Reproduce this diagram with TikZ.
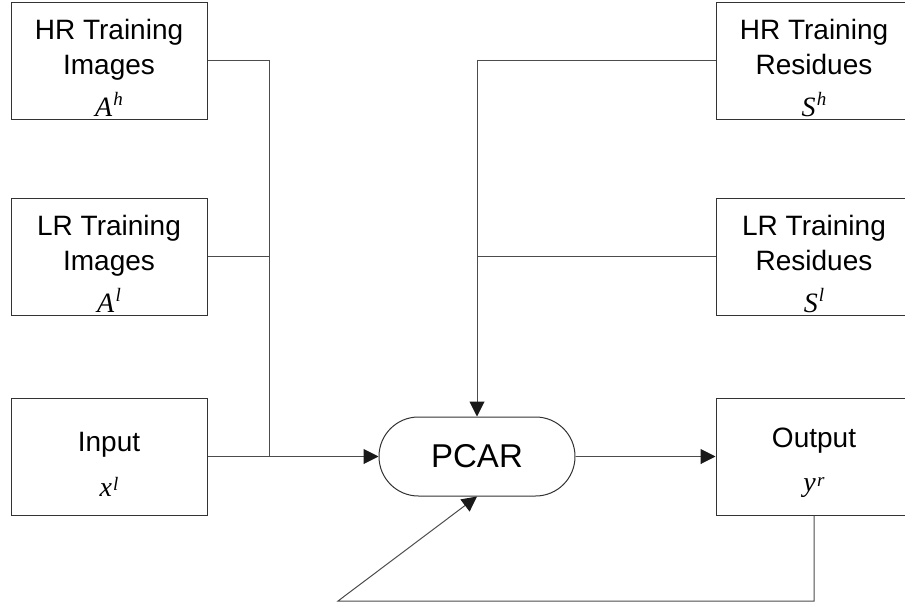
\documentclass[tikz,border=0pt]{standalone}
\usepackage{fontspec}
\setmainfont{Liberation Sans}
\newfontfamily\timesfont{Liberation Serif}
\usepackage{tikz}
\usetikzlibrary{arrows.meta,positioning,calc}

% symbol with raised index, e.g. \varsym{A}{h}{5.5pt}
\newcommand{\varsym}[3]{{\fontsize{14}{16}\timesfont\itshape #1\kern0.6pt\raisebox{#3}{\fontsize{9.5}{9.5}\selectfont #2}}}

\tikzset{
  blockbox/.style={draw=black!80, line width=0.5pt, minimum width=98pt, minimum height=58.5pt,
    inner sep=0pt},
  boxtext/.style={align=center, inner sep=0pt, font=\fontsize{14}{17.5}\selectfont},
  pcarbox/.style={draw=black!80, line width=0.5pt, rounded corners=19.7pt, minimum width=98pt,
    minimum height=39.5pt, inner sep=0pt, font=\fontsize{16.5}{18}\selectfont},
  link/.style={draw=black!70, line width=0.5pt},
  linkarrow/.style={link, -{Triangle[length=7.5pt,width=7.5pt,color=black!90]}}
}

\begin{document}
\begin{tikzpicture}[x=0.5pt,y=-0.5pt]
\useasboundingbox (0,0) rectangle (905,605);
\clip (0,0) rectangle (905,605);
% left column
\node[blockbox, label={[boxtext,yshift=-3.6pt]center:HR Training\\Images\\[3.5pt]\varsym{A}{h}{5.5pt}}] (hrimg) at (109,60.5) {};
\node[blockbox, label={[boxtext,yshift=-3.6pt]center:LR Training\\Images\\[3.5pt]\varsym{A}{l}{5.5pt}}] (lrimg) at (109,256.5) {};
\node[blockbox, label={[boxtext,yshift=-3.9pt]center:Input\\[5pt]\varsym{x}{l}{3pt}}] (input) at (109,456.5) {};
% right column
\node[blockbox, label={[boxtext,yshift=-3.6pt]center:HR Training\\Residues\\[3.5pt]\varsym{S}{h}{5.5pt}}] (hrres) at (814,60.5) {};
\node[blockbox, label={[boxtext,yshift=-3.6pt]center:LR Training\\Residues\\[3.5pt]\varsym{S}{l}{5.5pt}}] (lrres) at (814,256.5) {};
\node[blockbox, label={[boxtext,yshift=-3.15pt]center:Output\\[4.5pt]\varsym{y}{r}{2.5pt}}] (output) at (814,456.5) {};
% centre
\node[pcarbox] (pcar) at (477,456.5) {PCAR};
\coordinate (busl) at (269,456.5);
\coordinate (fb) at (338,601);

\draw[link] (hrimg.east) -| (busl);
\draw[link] (lrimg.east) -| (busl);
\draw[linkarrow] (input.east) -- (pcar.west);
\draw[linkarrow] (hrres.west) -| (pcar.north);
\draw[link] (lrres.west) -- (lrres.west -| pcar.north);
\draw[linkarrow] (pcar.east) -- (output.west);
\draw[linkarrow] (output.south) |- (fb) -- (pcar.south);
\end{tikzpicture}
\end{document}
